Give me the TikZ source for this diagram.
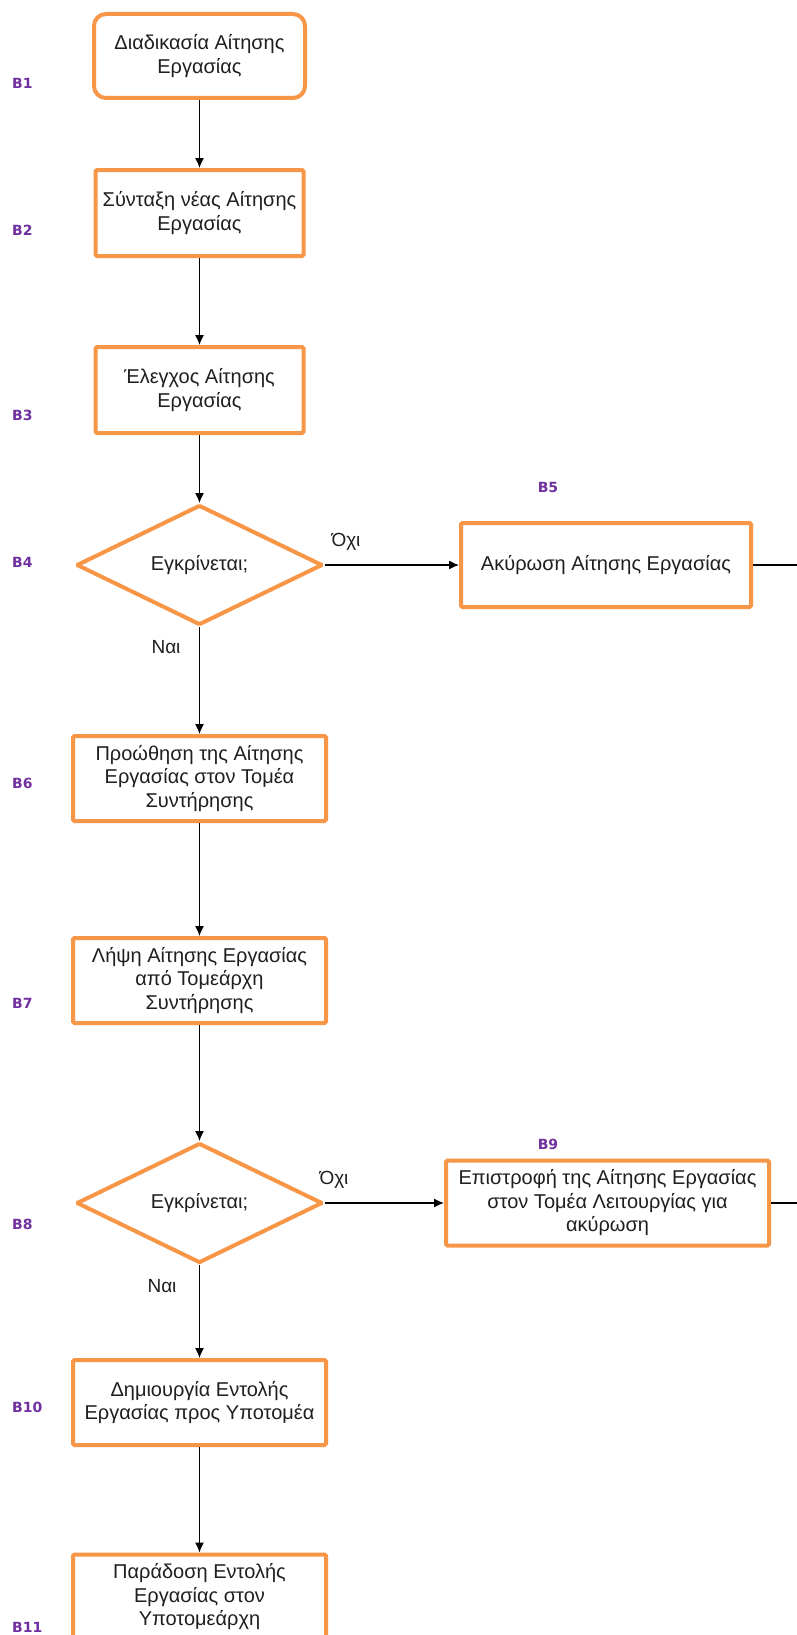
\documentclass[tikz,border=0pt]{standalone}
\usepackage{fontspec}
\setmainfont{Liberation Sans}
\newfontfamily\lblfont{DejaVu Sans}
\usetikzlibrary{shapes.geometric,arrows.meta}
\definecolor{boxorange}{HTML}{F79646}
\definecolor{lblpurple}{HTML}{7030A0}
\definecolor{txtdark}{HTML}{1F1F1F}
\begin{document}
\begin{tikzpicture}[x=1pt,y=-1pt,
  box/.style={draw=boxorange, line width=4pt, fill=white, align=center,
    font=\fontsize{20}{23.5}\selectfont, text=txtdark, inner sep=0pt, rounded corners=1.5pt},
  startbox/.style={box, rounded corners=12pt},
  decision/.style={box, diamond, aspect=2, rounded corners=1pt,
    minimum width=246pt, minimum height=120pt},
  steplbl/.style={font=\lblfont\bfseries\fontsize{14}{14}\selectfont, text=lblpurple, inner sep=0pt},
  edgelbl/.style={font=\fontsize{19}{19}\selectfont, text=txtdark, inner sep=0pt},
  conn/.style={draw=black, line width=1.3pt, -{Latex[length=10pt,width=9pt]}},
  plainconn/.style={draw=black, line width=1.3pt}
]
\useasboundingbox (0,0) rectangle (797,1635);
\clip (0,0) rectangle (797,1635);
\fill[white] (0,0) rectangle (797,1635);

% step labels
\node[steplbl, anchor=west] (l1) at (12,83) {B1};
\node[steplbl, anchor=west] (l2) at (12,230) {B2};
\node[steplbl, anchor=west] (l3) at (12,415) {B3};
\node[steplbl, anchor=west] (l4) at (12,562) {B4};
\node[steplbl] (l5) at (548,487) {B5};
\node[steplbl, anchor=west] (l6) at (12,783) {B6};
\node[steplbl, anchor=west] (l7) at (12,1003) {B7};
\node[steplbl, anchor=west] (l8) at (12,1224) {B8};
\node[steplbl] (l9) at (548,1144) {B9};
\node[steplbl, anchor=west] (l10) at (12,1407) {B10};
\node[steplbl, anchor=west] (l11) at (12,1627) {B11};

% boxes
\node[startbox, minimum width=211pt, minimum height=84pt] (b1) at (199.5,56)
  {Διαδικασία Αίτησης\\Εργασίας};
\node[box, minimum width=208pt, minimum height=86pt] (b2) at (199.5,213)
  {Σύνταξη νέας Αίτησης\\Εργασίας};
\node[box, minimum width=208pt, minimum height=86pt] (b3) at (199.5,390)
  {Έλεγχος Αίτησης\\Εργασίας};
\node[decision] (b4) at (199.5,565) {Εγκρίνεται;};
\node[box, minimum width=290pt, minimum height=84pt] (b5) at (606,565)
  {Ακύρωση Αίτησης Εργασίας};
\node[box, minimum width=253pt, minimum height=85pt] (b6) at (199.5,778.5)
  {Προώθηση της Αίτησης\\Εργασίας στον Τομέα\\Συντήρησης};
\node[box, minimum width=253pt, minimum height=85pt] (b7) at (199.5,980.5)
  {Λήψη Αίτησης Εργασίας\\από Τομεάρχη\\Συντήρησης};
\node[decision] (b8) at (199.5,1203) {Εγκρίνεται;};
\node[box, minimum width=323pt, minimum height=85pt] (b9) at (607.5,1203)
  {Επιστροφή της Αίτησης Εργασίας\\στον Τομέα Λειτουργίας για\\ακύρωση};
\node[box, minimum width=253pt, minimum height=85pt] (b10) at (199.5,1402.5)
  {Δημιουργία Εντολής\\Εργασίας προς Υποτομέα};
\node[box, minimum width=253pt, minimum height=85pt] (b11) at (199.5,1597)
  {Παράδοση Εντολής\\Εργασίας στον\\Υποτομεάρχη};

% free ends at the right edge
\coordinate (e5) at (800,565);
\coordinate (e9) at (800,1203);

% connectors
\draw[conn] (b1.south) -- (b2.north);
\draw[conn] (b2.south) -- (b3.north);
\draw[conn] (b3.south) -- (b4.north);
\draw[conn] (b4.east) -- (b5.west);
\draw[conn] (b4.south) -- (b6.north);
\draw[plainconn] (b5.east) -- (e5);
\draw[conn] (b6.south) -- (b7.north);
\draw[conn] (b7.south) -- (b8.north);
\draw[conn] (b8.east) -- (b9.west);
\draw[conn] (b8.south) -- (b10.north);
\draw[plainconn] (b9.east) -- (e9);
\draw[conn] (b10.south) -- (b11.north);

% edge labels
\node[edgelbl] (o1) at (346,542) {Όχι};
\node[edgelbl] (n1) at (166,647) {Ναι};
\node[edgelbl] (o2) at (334,1180) {Όχι};
\node[edgelbl] (n2) at (162,1286) {Ναι};
\end{tikzpicture}
\end{document}
